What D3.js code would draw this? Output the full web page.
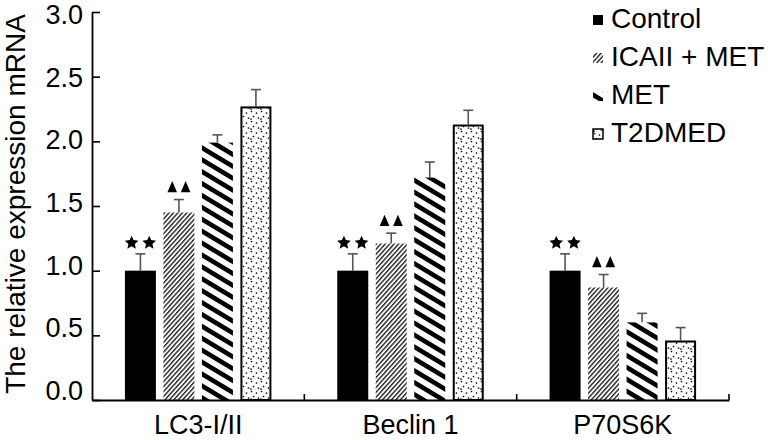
<!DOCTYPE html>
<html>
<head>
<meta charset="utf-8">
<script src="https://cdn.jsdelivr.net/npm/d3@7"></script>
<style>
  html, body { margin: 0; padding: 0; background: #fff; }
  svg { display: block; }
  text { font-family: "Liberation Sans", Arial, Helvetica, sans-serif; }
</style>
</head>
<body>
<svg id="chart" width="768" height="440"></svg>
<script>
// ---- data ----
const categories = ["LC3-I/II", "Beclin 1", "P70S6K"];
const series = ["Control", "ICAII + MET", "MET", "T2DMED"];
const valControl = [1.00, 1.00, 1.00];
const valICAII   = [1.45, 1.21, 0.87];
const valMET     = [1.99, 1.72, 0.60];
const valT2DMED  = [2.27, 2.13, 0.46];
const errControl = [0.13, 0.13, 0.13];
const errICAII   = [0.10, 0.08, 0.10];
const errMET     = [0.06, 0.12, 0.07];
const errT2DMED  = [0.13, 0.11, 0.10];
const yTicks = [0, 0.5, 1.0, 1.5, 2.0, 2.5, 3.0];
const starCount = [2, 2, 2];   // ★★ above Control
const triCount  = [2, 2, 2];   // ▲▲ above ICAII + MET
const yTitle = "The relative expression mRNA";

const values = [valControl, valICAII, valMET, valT2DMED];
const errors = [errControl, errICAII, errMET, errT2DMED];

const svg = d3.select("#chart");
const mLeft = 92, mRight = 729, mTop = 12, mBottom = 400;

const x = d3.scaleBand().domain(categories).range([mLeft, mRight]).padding(0);
const inner = d3.scaleBand().domain(series).range([-77, 77]).paddingInner(0.195).paddingOuter(0.0975);
const y = d3.scaleLinear().domain([0, 3]).range([mBottom, mTop]);
// tick labels in the original sit on a slightly tighter spread than the ticks
const yLab = d3.scaleLinear().domain([0, 3]).range([391, 15]);

// ---- patterns ----
const defs = svg.append("defs");
const pIC = defs.append("pattern").attr("id", "pICAII").attr("patternUnits", "userSpaceOnUse")
  .attr("width", 3.3).attr("height", 3.3).attr("patternTransform", "rotate(-48)");
pIC.append("rect").attr("width", 3.3).attr("height", 3.3).attr("fill", "#fff");
pIC.append("rect").attr("x", 0).attr("y", 0).attr("width", 3.3).attr("height", 1.4).attr("fill", "#222");

const pMET = defs.append("pattern").attr("id", "pMET").attr("patternUnits", "userSpaceOnUse")
  .attr("width", 10.2).attr("height", 10.2).attr("patternTransform", "rotate(31)");
pMET.append("rect").attr("width", 10.2).attr("height", 10.2).attr("fill", "#fff");
pMET.append("rect").attr("x", 0).attr("y", 0).attr("width", 10.2).attr("height", 4.6).attr("fill", "#000");

const pT2 = defs.append("pattern").attr("id", "pT2").attr("patternUnits", "userSpaceOnUse")
  .attr("width", 10).attr("height", 10);
pT2.append("rect").attr("width", 10).attr("height", 10).attr("fill", "#fff");
[[1.5,1.5],[6.5,3],[3.5,6.5],[8.5,8],[1,9]].forEach(([px,py]) =>
  pT2.append("circle").attr("cx", px).attr("cy", py).attr("r", 0.85).attr("fill", "#000"));

const fills = {"Control": "#000", "ICAII + MET": "url(#pICAII)", "MET": "url(#pMET)", "T2DMED": "url(#pT2)"};
const strokes = {"Control": "none", "ICAII + MET": "none", "MET": "none", "T2DMED": "#000"};

// ---- bars ----
const rows = [];
series.forEach((s, si) => categories.forEach((c, ci) => {
  rows.push({s, c, v: values[si][ci], e: errors[si][ci], ci});
}));
const bx = d => x(d.c) + x.bandwidth() / 2 + inner(d.s);
const bc = d => bx(d) + inner.bandwidth() / 2;

// error bars
const eb = svg.append("g").attr("stroke", "#555").attr("stroke-width", 1.6).attr("fill", "none");
eb.selectAll("line.v").data(rows).join("line")
  .attr("x1", bc).attr("x2", bc)
  .attr("y1", d => y(d.v)).attr("y2", d => y(d.v + d.e));
eb.selectAll("line.c").data(rows).join("line")
  .attr("x1", d => bc(d) - 5).attr("x2", d => bc(d) + 5)
  .attr("y1", d => y(d.v + d.e)).attr("y2", d => y(d.v + d.e));

svg.append("g").selectAll("rect").data(rows).join("rect")
  .attr("x", d => bx(d) + (d.s === "T2DMED" ? 1 : 0))
  .attr("y", d => y(d.v) + (d.s === "T2DMED" ? 1 : 0))
  .attr("width", d => inner.bandwidth() - (d.s === "T2DMED" ? 2 : 0))
  .attr("height", d => y(0) - y(d.v) - (d.s === "T2DMED" ? 1 : 0))
  .attr("fill", d => fills[d.s])
  .attr("stroke", d => strokes[d.s])
  .attr("stroke-width", 2);

// significance marks (symbols)
const fatStar = {
  draw(ctx, size) {
    const R = Math.sqrt(size), r = R * 0.47;
    for (let i = 0; i < 10; i++) {
      const a = -Math.PI / 2 + i * Math.PI / 5, rr = i % 2 ? r : R;
      const px = rr * Math.cos(a), py = rr * Math.sin(a);
      i ? ctx.lineTo(px, py) : ctx.moveTo(px, py);
    }
    ctx.closePath();
  }
};
const starPts = [];
rows.filter(d => d.s === "Control").forEach(d => {
  const n = starCount[d.ci];
  for (let k = 0; k < n; k++) starPts.push({x: bc(d) + (k - (n - 1) / 2) * 17.6, y: y(d.v + d.e) - 12});
});
svg.append("g").selectAll("path").data(starPts).join("path")
  .attr("transform", p => `translate(${p.x},${p.y + 1})`)
  .attr("d", d3.symbol(fatStar, 52)).attr("fill", "#000");
const triPts = [];
rows.filter(d => d.s === "ICAII + MET").forEach(d => {
  const n = triCount[d.ci];
  for (let k = 0; k < n; k++) triPts.push({x: bc(d) + (k - (n - 1) / 2) * 13.4, y: y(d.v + d.e) - 11});
});
svg.append("g").selectAll("path").data(triPts).join("path")
  .attr("transform", p => `translate(${p.x},${p.y}) scale(1,1.35)`)
  .attr("d", d3.symbol(d3.symbolTriangle, 40)).attr("fill", "#000");

// ---- axes ----
const yAxis = d3.axisLeft(y).tickValues(yTicks).tickFormat(d3.format(".1f"))
  .tickSizeInner(-8).tickSizeOuter(0).tickPadding(9);
const gy = svg.append("g").attr("transform", `translate(${mLeft},0)`).call(yAxis);
gy.selectAll("text").style("font-size", "27px").attr("fill", "#000")
  .attr("y", d => yLab(d) - y(d));
gy.selectAll("line").attr("stroke", "#000").attr("stroke-width", 1.6);
gy.select(".domain").attr("stroke", "#000").attr("stroke-width", 1.8);

const xAxis = d3.axisBottom(x).tickSize(0).tickPadding(15);
const gx = svg.append("g").attr("transform", `translate(0,${mBottom})`).call(xAxis);
gx.selectAll("text").style("font-size", "27px").attr("fill", "#000");
gx.select(".domain").attr("stroke", "#000").attr("stroke-width", 1.8);
gx.selectAll("line.bnd").data(categories).join("line").attr("class", "bnd")
  .attr("x1", d => x(d) + x.bandwidth()).attr("x2", d => x(d) + x.bandwidth())
  .attr("y1", 0).attr("y2", -6).attr("stroke", "#000").attr("stroke-width", 1.6);

// y title
svg.append("text")
  .attr("transform", `translate(25,${(10 + 398) / 2}) rotate(-90)`)
  .attr("text-anchor", "middle")
  .style("font-size", "28px")
  .text(yTitle);

// ---- legend ----
const lg = svg.append("g").attr("transform", "translate(593,0)");
const li = lg.selectAll("g").data(series).join("g")
  .attr("transform", (d, i) => `translate(0,${28 + i * 38})`);
li.append("rect").attr("x", 0).attr("y", -13).attr("width", 10).attr("height", 10)
  .attr("fill", d => fills[d]).attr("stroke", d => strokes[d]).attr("stroke-width", 1.5);
li.append("text").attr("x", 18).attr("y", 0).style("font-size", "28px").text(d => d);
</script>
</body>
</html>
